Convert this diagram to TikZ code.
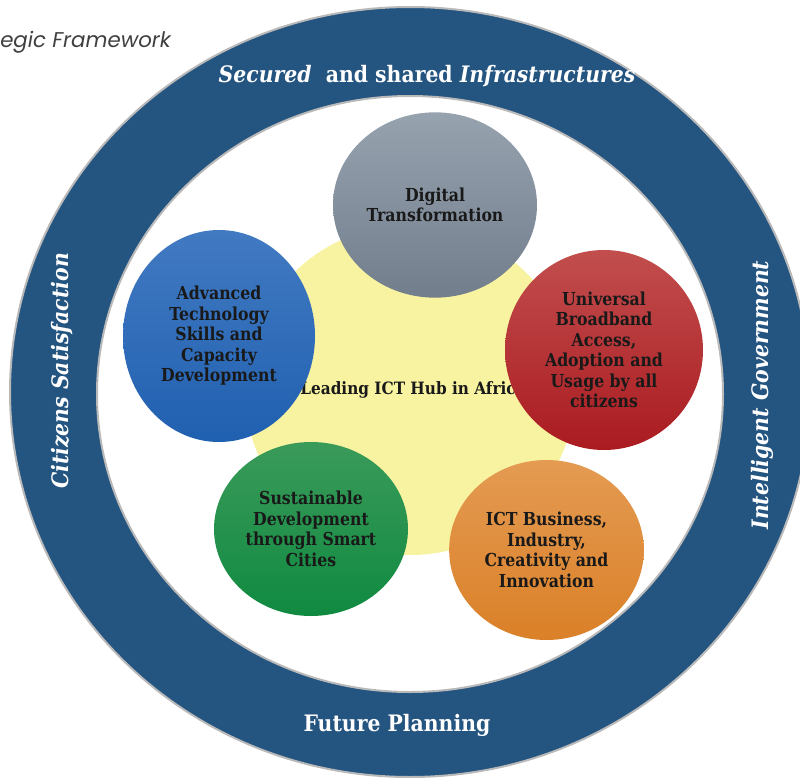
\documentclass[tikz,border=0pt]{standalone}
\usepackage{fontspec}
\setmainfont{DejaVu Serif}[FakeStretch=0.9]
\newfontfamily\goalfont{DejaVu Serif}[FakeStretch=0.88]
\newfontfamily\titlefont{Poppins}
\usetikzlibrary{shapes.geometric}
\definecolor{ringblue}{RGB}{36,84,128}
\definecolor{ringedge}{RGB}{185,185,185}
\definecolor{hubyellow}{RGB}{248,243,160}
\definecolor{grayTop}{RGB}{150,162,174}
\definecolor{grayBot}{RGB}{114,126,140}
\definecolor{redTop}{RGB}{194,78,78}
\definecolor{redBot}{RGB}{170,27,32}
\definecolor{blueTop}{RGB}{66,122,194}
\definecolor{blueBot}{RGB}{32,96,176}
\definecolor{greenTop}{RGB}{58,154,90}
\definecolor{greenBot}{RGB}{16,138,64}
\definecolor{orangeTop}{RGB}{228,155,82}
\definecolor{orangeMid}{RGB}{232,145,35}
\definecolor{orangeBot}{RGB}{218,128,40}
\tikzstyle{goal}=[ellipse,draw=none,inner sep=-30pt,align=center,text=black!90,font=\goalfont\bfseries\fontsize{13.4}{15.4}\selectfont]
\tikzstyle{ringlabel}=[text=white,inner sep=0pt,font=\bfseries\fontsize{17}{20}\selectfont]

\begin{document}
\begin{tikzpicture}[x=0.75pt,y=-0.75pt]
  \useasboundingbox (0,0) rectangle (800,778);
  \fill[ringblue,even odd rule] (410,392) ellipse [x radius=400,y radius=385]
    (410,394) ellipse [x radius=313,y radius=298];
  \draw[ringedge,line width=1.5pt] (410,392) ellipse [x radius=400,y radius=385];
  \draw[ringedge,line width=1.5pt] (410,394) ellipse [x radius=313,y radius=298];
  \node[anchor=west,inner sep=0pt,text=black!75,font=\titlefont\itshape\fontsize{16}{19}\selectfont] (title) at (0,42) {egic Framework};
  \node[ringlabel] (secured) at (427,76) {\itshape Secured\ \ \upshape and shared \itshape Infrastructures};
  \node[ringlabel,rotate=90] (citizens) at (62,371) {\itshape Citizens Satisfaction};
  \node[ringlabel,rotate=90] (intelligent) at (762,395) {\itshape Intelligent Government};
  \node[ringlabel] (future) at (397,725) {Future Planning};
  \fill[hubyellow] (410,390) circle [radius=165];
  \node[inner sep=0pt,text=black!90,font=\bfseries\fontsize{12.75}{15}\selectfont] (hub) at (413,390) {Leading ICT Hub in Africa};
  \node[goal,top color=grayTop,bottom color=grayBot,minimum width=153pt,minimum height=139pt] (digital) at (435,205) {Digital\\Transformation};
  \node[goal,top color=redTop,bottom color=redBot,minimum width=148.5pt,minimum height=150pt] (broadband) at (604,350) {Universal\\Broadband\\Access,\\Adoption and\\Usage by all\\citizens};
  \node[goal,top color=orangeTop,middle color=orangeMid,bottom color=orangeBot,minimum width=146pt,minimum height=135pt] (business) at (546.5,550) {ICT Business,\\Industry,\\Creativity and\\Innovation};
  \node[goal,top color=greenTop,bottom color=greenBot,minimum width=145.5pt,minimum height=130.5pt] (smart) at (311,529) {Sustainable\\Development\\through Smart\\Cities};
  \node[goal,top color=blueTop,bottom color=blueBot,minimum width=144pt,minimum height=159pt] (skills) at (219,336) {Advanced\\Technology\\Skills and\\Capacity\\Development};
\end{tikzpicture}
\end{document}
